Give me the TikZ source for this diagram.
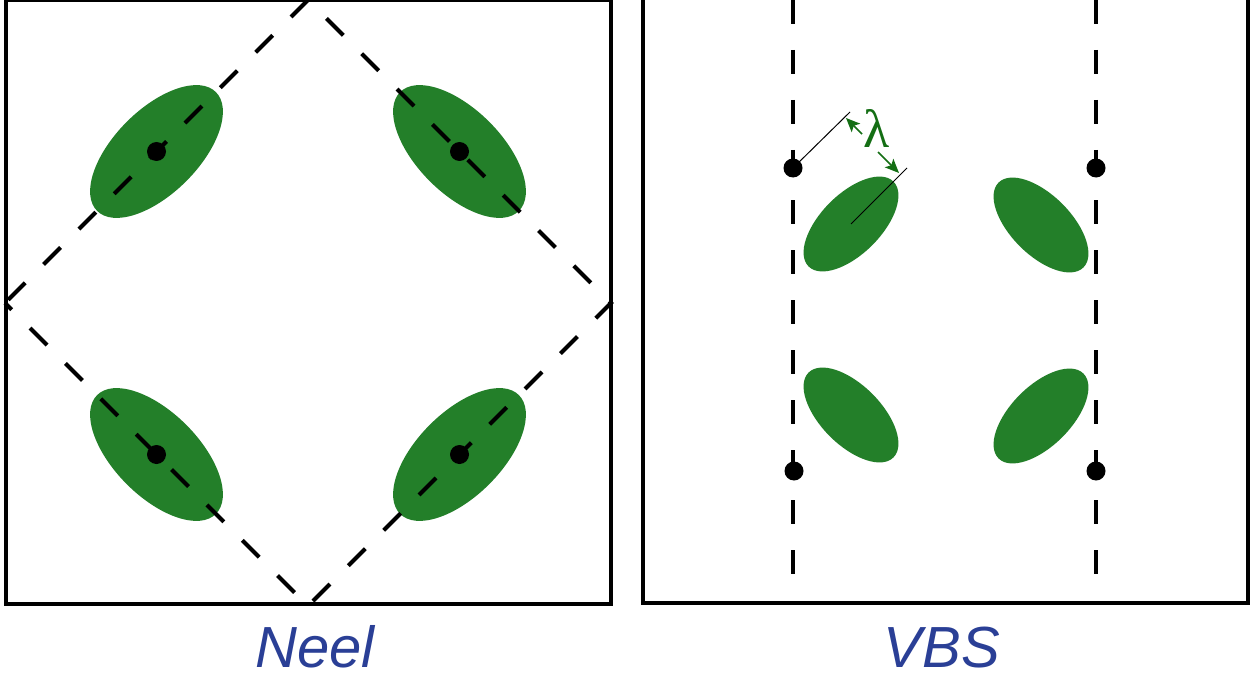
\documentclass[tikz,border=0pt]{standalone}
\usepackage{fontspec}
\newfontfamily\labfont{Liberation Sans}
\newfontfamily\lamfont{Liberation Serif}
\usetikzlibrary{arrows.meta}
\definecolor{blobgreen}{RGB}{35,127,41}
\definecolor{lamgreen}{RGB}{20,110,20}
\definecolor{labblue}{RGB}{42,63,150}
\begin{document}
\begin{tikzpicture}[x=1pt,y=-1pt,
  frame/.style={draw=black,line width=4pt},
  dashline/.style={draw=black,line width=4pt,dash pattern=on 24pt off 26pt},
  blob/.style={fill=blobgreen},
  site/.style={fill=black},
  thinline/.style={draw=black,line width=1pt},
  lamarrow/.style={draw=lamgreen,line width=1.5pt,-{Stealth[length=14pt,width=12pt,inset=3pt]}},
  phaselabel/.style={text=labblue,font=\labfont\itshape\fontsize{58}{60}\selectfont,anchor=base,inner sep=0pt}]
\useasboundingbox (0,0) rectangle (1253,674);
\fill[white] (0,0) rectangle (1253,674);

% ---------- Neel panel ----------
\coordinate (T) at (308,0);
\coordinate (R) at (611,303);
\coordinate (B) at (308,606);
\coordinate (L) at (5,303);
\coordinate (n1) at (156.5,151.5);
\coordinate (n2) at (459.5,151.5);
\coordinate (n3) at (156.5,454.5);
\coordinate (n4) at (459.5,454.5);

\fill[blob] (n1) ellipse [x radius=84, y radius=42, rotate=45];
\fill[blob] (n2) ellipse [x radius=84, y radius=42, rotate=-45];
\fill[blob] (n3) ellipse [x radius=84, y radius=42, rotate=-45];
\fill[blob] (n4) ellipse [x radius=84, y radius=42, rotate=45];

\draw[dashline,dash phase=45.5pt] (L) -- (T) -- (R) -- (B) -- cycle;

\foreach \p in {n1,n2,n3,n4} \fill[site] (\p) circle (9.5);

\draw[frame] (6,0) rectangle (611,604);

% ---------- VBS panel ----------
\coordinate (vt1) at (793,0);
\coordinate (vb1) at (793,576);
\coordinate (vt2) at (1096,0);
\coordinate (vb2) at (1096,576);
\draw[dashline] (vt1) -- (vb1);
\draw[dashline] (vt2) -- (vb2);

\coordinate (s1) at (793,168);
\coordinate (s2) at (1096,168);
\coordinate (s3) at (794,471);
\coordinate (s4) at (1096,471);
\foreach \p in {s1,s2,s3,s4} \fill[site] (\p) circle (9.5);

\coordinate (b1) at (851,224);
\coordinate (b2) at (1041,225);
\coordinate (b3) at (851,415);
\coordinate (b4) at (1041,416);
\fill[blob] (b1) ellipse [x radius=60, y radius=30, rotate=45];
\fill[blob] (b2) ellipse [x radius=60, y radius=30, rotate=-45];
\fill[blob] (b3) ellipse [x radius=60, y radius=30, rotate=-45];
\fill[blob] (b4) ellipse [x radius=60, y radius=30, rotate=45];

\coordinate (la) at (850,112);
\coordinate (lb) at (907,168);
\draw[thinline] (s1) -- (la);
\draw[thinline] (b1) -- (lb);
\coordinate (a1s) at (862,134);
\coordinate (a1e) at (846,118);
\coordinate (a2s) at (878,152);
\coordinate (a2e) at (899,173);
\draw[lamarrow] (a1s) -- (a1e);
\draw[lamarrow] (a2s) -- (a2e);
\node[text=lamgreen,inner sep=0pt,font=\lamfont\fontsize{54}{54}\selectfont] (lam) at (877,128) {λ};

\draw[frame] (643,-2) rectangle (1248,603);

% ---------- labels ----------
\node[phaselabel] (neel) at (315,667) {Neel};
\node[phaselabel] (vbs) at (942,667) {VBS};
\end{tikzpicture}
\end{document}
